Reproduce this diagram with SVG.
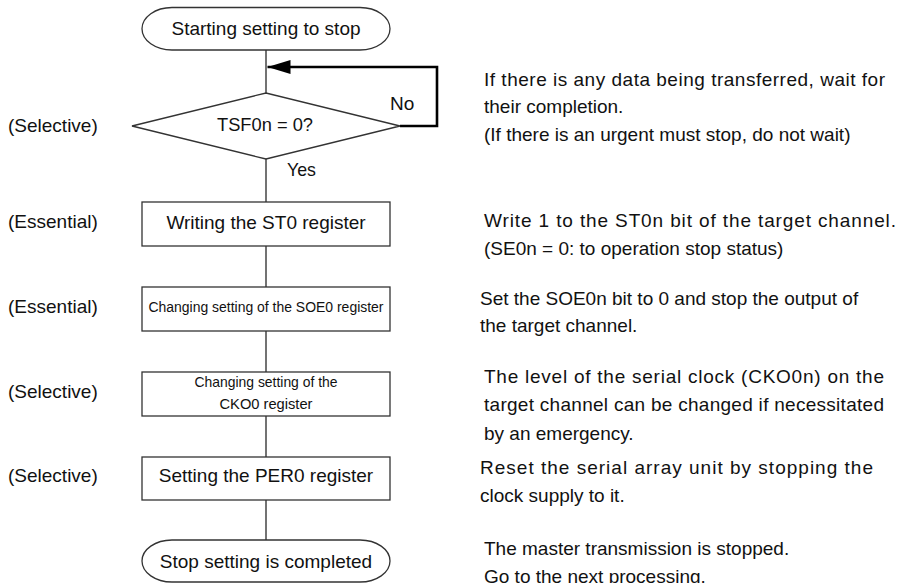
<svg xmlns="http://www.w3.org/2000/svg" width="906" height="583" viewBox="0 0 906 583">
<style>
text{font-family:"Liberation Sans",Arial,sans-serif;font-size:19px;fill:#111}
.c{text-anchor:middle}
.s1{font-size:15.5px}
.s2{font-size:14.5px}
.shape{fill:#fff;stroke:#333;stroke-width:1.3}
.conn{fill:none;stroke:#444;stroke-width:1.5}
.loop{fill:none;stroke:#000;stroke-width:2.6}
</style>
<defs>
<marker id="ah" markerUnits="userSpaceOnUse" markerWidth="24" markerHeight="16" refX="23" refY="7" orient="auto">
<path d="M0,0 L23,7 L0,14 Z" fill="#000"/>
</marker>
</defs>
<rect width="906" height="583" fill="#fff"/>
<g id="connectors">
<line class="conn" x1="266" y1="50" x2="266" y2="93"/>
<line class="conn" x1="266" y1="159" x2="266" y2="202"/>
<line class="conn" x1="266" y1="246" x2="266" y2="287"/>
<line class="conn" x1="266" y1="331" x2="266" y2="372"/>
<line class="conn" x1="266" y1="416" x2="266" y2="457"/>
<line class="conn" x1="266" y1="500" x2="266" y2="540"/>
<path class="loop" d="M400,126 H437 V67 H267.5" marker-end="url(#ah)"/>
<text x="390" y="110">No</text>
<text x="287" y="176" textLength="29" lengthAdjust="spacingAndGlyphs">Yes</text>
</g>
<g id="start">
<rect class="shape" x="142" y="7.5" width="248" height="42.5" rx="30" ry="21.25"/>
<text class="c" x="266" y="35">Starting setting to stop</text>
</g>
<g id="decision">
<polygon class="shape" points="132,126 266,93 400,126 266,159"/>
<text class="c" x="265" y="131" textLength="96" lengthAdjust="spacingAndGlyphs">TSF0n = 0?</text>
</g>
<g id="st0">
<rect class="shape" x="142" y="202" width="248" height="44"/>
<text class="c" x="266" y="229">Writing the ST0 register</text>
</g>
<g id="soe0">
<rect class="shape" x="142" y="287" width="248" height="44"/>
<text class="c s1" x="266" y="312" textLength="235" lengthAdjust="spacingAndGlyphs">Changing setting of the SOE0 register</text>
</g>
<g id="cko0">
<rect class="shape" x="142" y="372" width="248" height="44"/>
<text class="c s2" x="266" y="387" textLength="143" lengthAdjust="spacingAndGlyphs">Changing setting of the</text>
<text class="c s2" x="266" y="409" textLength="93" lengthAdjust="spacingAndGlyphs">CKO0 register</text>
</g>
<g id="per0">
<rect class="shape" x="142" y="457" width="248" height="43"/>
<text class="c" x="266" y="482">Setting the PER0 register</text>
</g>
<g id="end">
<rect class="shape" x="142" y="540" width="248" height="42" rx="30" ry="21"/>
<text class="c" x="266" y="568">Stop setting is completed</text>
</g>
<g id="labels">
<text x="8" y="132">(Selective)</text>
<text x="8" y="228">(Essential)</text>
<text x="8" y="313">(Essential)</text>
<text x="8" y="398">(Selective)</text>
<text x="8" y="482">(Selective)</text>
</g>
<g id="notes">
<text x="484" y="86" textLength="401" lengthAdjust="spacing">If there is any data being transferred, wait for</text>
<text x="484" y="113">their completion.</text>
<text x="484" y="141">(If there is an urgent must stop, do not wait)</text>
<text x="484" y="227" textLength="412" lengthAdjust="spacing">Write 1 to the ST0n bit of the target channel.</text>
<text x="484" y="255">(SE0n = 0: to operation stop status)</text>
<text x="480" y="305">Set the SOE0n bit to 0 and stop the output of</text>
<text x="480" y="332">the target channel.</text>
<text x="484" y="383" textLength="400" lengthAdjust="spacing">The level of the serial clock (CKO0n) on the</text>
<text x="484" y="411" textLength="400" lengthAdjust="spacing">target channel can be changed if necessitated</text>
<text x="484" y="440">by an emergency.</text>
<text x="480" y="474" textLength="393" lengthAdjust="spacing">Reset the serial array unit by stopping the</text>
<text x="480" y="502">clock supply to it.</text>
<text x="484" y="555">The master transmission is stopped.</text>
<text x="484" y="583">Go to the next processing.</text>
</g>
</svg>
